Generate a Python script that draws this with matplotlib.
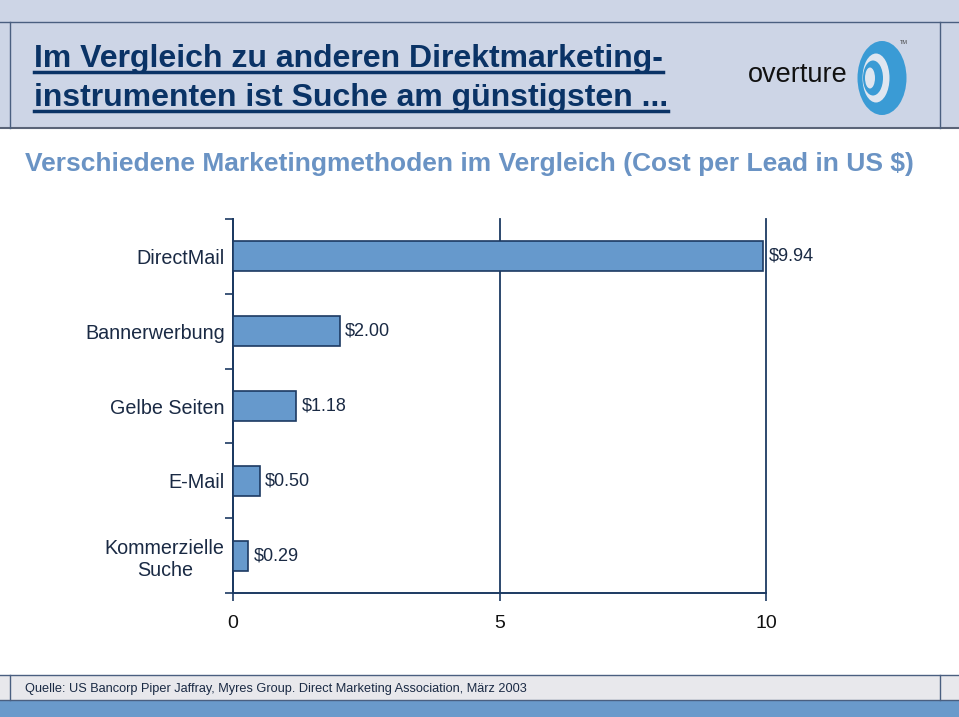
import matplotlib
matplotlib.use("Agg")
import matplotlib.pyplot as plt
from matplotlib.patches import Rectangle, Ellipse
from matplotlib.lines import Line2D

categories = ["DirectMail", "Bannerwerbung", "Gelbe Seiten", "E-Mail", "Kommerzielle\nSuche"]
values = [9.94, 2.00, 1.18, 0.50, 0.29]
value_labels = ["$9.94", "$2.00", "$1.18", "$0.50", "$0.29"]
x_ticks = [0, 5, 10]

title_lines = ["Im Vergleich zu anderen Direktmarketing-",
               "instrumenten ist Suche am günstigsten ..."]
subtitle = "Verschiedene Marketingmethoden im Vergleich (Cost per Lead in US $)"
source = "Quelle: US Bancorp Piper Jaffray, Myres Group. Direct Marketing Association, März 2003"

W, H = 959, 717
NAVY = "#1c3a62"
BAR = "#6699cc"
SANS = ["Liberation Sans", "DejaVu Sans"]
HEAD_BG = "#cdd5e6"
LOGO = "#3a9bd5"
LOGO_LIGHT = "#dfe6f0"

fig = plt.figure(figsize=(W / 100, H / 100), dpi=100)

# decoration layer in pixel coordinates
bg = fig.add_axes([0, 0, 1, 1])
bg.set_xlim(0, W)
bg.set_ylim(H, 0)
bg.axis("off")

# header band
bg.add_patch(Rectangle((0, 0), W, 128, facecolor=HEAD_BG, edgecolor="none"))
bg.add_line(Line2D([0, W], [22, 22], color="#4a5f80", lw=1.0))
bg.add_line(Line2D([0, W], [128, 128], color="#5a6478", lw=1.5))
bg.add_line(Line2D([10, 10], [22, 128], color="#4a5f80", lw=1.0))
bg.add_line(Line2D([940, 940], [22, 128], color="#4a5f80", lw=1.0))

# footer
bg.add_patch(Rectangle((0, 675), W, 25, facecolor="#e8e8ec", edgecolor="none"))
bg.add_line(Line2D([0, W], [675, 675], color="#4a5f80", lw=1.0))
bg.add_line(Line2D([0, W], [700, 700], color="#4a5f80", lw=1.0))
bg.add_line(Line2D([10, 10], [675, 700], color="#4a5f80", lw=1.0))
bg.add_line(Line2D([940, 940], [675, 700], color="#4a5f80", lw=1.0))
bg.add_patch(Rectangle((0, 700), W, 17, facecolor="#6a9acb", edgecolor="none"))

# title
title_texts = []
for i, line in enumerate(title_lines):
    t = bg.text(34, 67 + i * 39, line, fontsize=23, fontweight="bold", color="#0a3366",
                family=SANS, va="baseline", ha="left")
    title_texts.append(t)

# subtitle
bg.text(25, 164, subtitle, fontsize=19, fontweight="bold", color="#6a93c4", family=SANS,
        va="center", ha="left")

# source
bg.text(25, 689, source, fontsize=9.2, color="#1a2a44", family=SANS,
        va="center", ha="left")

# logo
bg.text(748, 75, "overture", fontsize=19.5, color="#111111", family=SANS,
        va="center", ha="left")
bg.add_patch(Ellipse((882, 78), 49, 74, facecolor=LOGO, edgecolor="none"))
bg.add_patch(Ellipse((876, 78), 27, 49, facecolor=LOGO_LIGHT, edgecolor="none"))
bg.add_patch(Ellipse((873, 78), 20, 35, facecolor=LOGO, edgecolor="none"))
bg.add_patch(Ellipse((870, 78), 10, 21, facecolor=LOGO_LIGHT, edgecolor="none"))
bg.text(900, 43, "TM", fontsize=4, color="#444444", family=SANS, va="center", ha="left")

# chart
left, right, top, bottom = 233, 766, 219, 593
ax = fig.add_axes([left / W, 1 - bottom / H, (right - left) / W, (bottom - top) / H])
ax.set_facecolor("none")
ypos = list(range(len(categories)))
ax.barh(ypos, values, height=0.4, color=BAR, edgecolor=NAVY, linewidth=1.2, zorder=3)
ax.set_xlim(0, 10)
ax.set_ylim(len(categories) - 0.5, -0.5)

ax.set_xticks(x_ticks)
ax.set_xticklabels([str(v) for v in x_ticks], fontsize=14, family=SANS, color="#111111")
ax.tick_params(axis="x", direction="out", length=6, width=1.2, color=NAVY, pad=10)

ax.set_yticks(ypos)
ax.set_yticklabels(categories, fontsize=14.2, family=SANS, color="#1a2a44",
                   multialignment="center")
ax.tick_params(axis="y", which="major", length=0, pad=6)
ax.set_yticks([p - 0.5 for p in ypos] + [len(categories) - 0.5], minor=True)
ax.tick_params(axis="y", which="minor", direction="out", length=6, width=1.2, color=NAVY)

for s in ["top", "right"]:
    ax.spines[s].set_visible(False)
for s in ["left", "bottom"]:
    ax.spines[s].set_color(NAVY)
    ax.spines[s].set_linewidth(1.4)

ax.grid(axis="x", color=NAVY, linewidth=1.3, zorder=1)
ax.grid(axis="y", visible=False)
ax.set_axisbelow(True)
for gl in ax.get_xgridlines():
    gl.set_clip_on(False)

for y, v, lab in zip(ypos, values, value_labels):
    ax.annotate(lab, (v, y), xytext=(4, 0), textcoords="offset points",
                va="center", ha="left", fontsize=13, family=SANS, color="#1a2a44")

# underline titles
fig.canvas.draw()
renderer = fig.canvas.get_renderer()
inv = bg.transData.inverted()
for i, t in enumerate(title_texts):
    bb = t.get_window_extent(renderer)
    (x0, _), (x1, _) = inv.transform([(bb.x0, bb.y0), (bb.x1, bb.y1)])
    yl = 72 + i * 39
    bg.add_line(Line2D([x0, x1], [yl, yl], color="#0a3366", lw=2.5))

fig.savefig("out.png", dpi=100)
